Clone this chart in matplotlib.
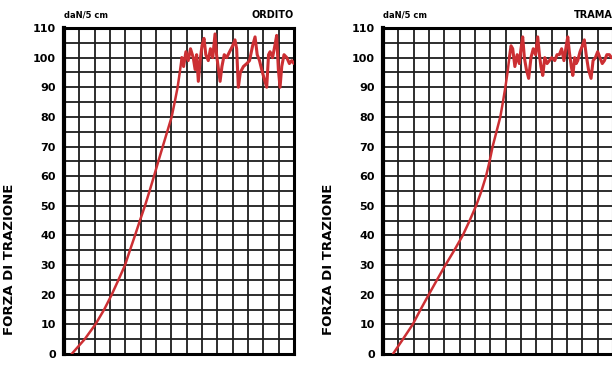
import matplotlib
matplotlib.use("Agg")
import matplotlib.pyplot as plt
import numpy as np

# ORDITO (warp)
ordito_x = [0.5, 1.35, 2.05, 2.62, 3.11, 3.55, 3.98, 4.3, 4.63, 4.95, 5.28, 5.58, 5.87,
            6.15, 6.44, 6.73, 7.02, 7.22, 7.41, 7.55, 7.68,
            7.8, 7.95, 8.1, 8.25, 8.43, 8.55, 8.65, 8.76, 8.9, 9.0, 9.13, 9.25, 9.41,
            9.55, 9.7, 9.85, 9.95, 10.05, 10.18, 10.3, 10.45, 10.61, 10.8, 11.0, 11.15,
            11.26, 11.37, 11.5, 11.7, 11.92, 12.1, 12.3, 12.46, 12.6, 12.75, 12.89,
            13.05, 13.22, 13.34, 13.44, 13.6, 13.75, 13.87, 13.98, 14.09, 14.2, 14.35,
            14.53, 14.7, 14.85, 15.0]
ordito_y = [0, 5, 10, 15, 20, 25, 30, 35, 40, 45, 50, 55, 60,
            65, 70, 75, 80, 85, 90, 95, 100,
            97, 102, 99, 103, 100, 96, 101, 92, 100, 104, 106.5, 101, 99,
            103, 100, 108, 101, 97, 92, 97, 101, 100, 102, 104, 106,
            103, 90, 95, 97, 98, 99, 104, 107, 101, 99, 96,
            93, 90, 101, 102, 100, 104, 107.5, 96, 90, 97, 101,
            100, 98, 99, 98]

# TRAMA (weft)
trama_x = [0.65, 1.3, 1.94, 2.45, 2.98, 3.52, 4.07, 4.65, 5.2, 5.65, 6.07, 6.42, 6.72,
           6.95, 7.15, 7.4, 7.65, 7.82, 7.98, 8.12, 8.24,
           8.35, 8.46, 8.6, 8.75, 8.89, 9.0, 9.11, 9.22, 9.35, 9.5, 9.65, 9.8, 9.95,
           10.09, 10.2, 10.3, 10.42, 10.55, 10.7, 10.85, 11.0, 11.2, 11.35, 11.5,
           11.65, 11.8, 11.95, 12.05, 12.15, 12.28, 12.38, 12.5, 12.6, 12.7, 12.85,
           13.0, 13.13, 13.25, 13.4, 13.57, 13.7, 13.85, 14.0, 14.15, 14.3, 14.44,
           14.6, 14.76, 14.9, 15.0]
trama_y = [0, 5, 10, 15, 20, 25, 30, 35, 40, 45, 50, 55, 60,
           65, 70, 75, 80, 85, 90, 95, 100,
           104, 103, 97, 101, 98, 103, 107, 100, 96, 93, 100, 103, 101,
           107, 101, 97, 94, 100, 98, 99, 100, 99, 101, 101,
           103, 99, 104, 107, 102, 97, 94, 100, 98, 99, 102,
           104, 106, 101, 96, 93, 99, 100, 102, 100, 98, 99,
           101, 101, 100, 100]

y_ticks = list(range(0, 111, 10))
panel_titles = ["ORDITO", "TRAMA"]
unit_label = "daN/5 cm"
y_label = "FORZA DI TRAZIONE"

RED = "#cc2f33"


def draw_panel(fig, rect, xs, ys, title):
    ax = fig.add_axes(rect)
    ax.set_xlim(0, 15)
    ax.set_ylim(0, 110)

    # grid of the printed chart paper
    for gx in np.arange(1, 15):
        ax.axvline(gx, color="#1e1e1e", lw=1.3, zorder=1)
    for gy in np.arange(5, 110, 5):
        ax.axhline(gy, color="#1e1e1e", lw=1.3, zorder=1)

    # rising part thinner, the noisy plateau drawn a bit heavier
    split = ys.index(100)
    ax.plot(xs[:split + 1], ys[:split + 1], color=RED, lw=1.8, zorder=3,
            solid_joinstyle="round", solid_capstyle="round")
    ax.plot(xs[split:], ys[split:], color=RED, lw=2.2, zorder=3,
            solid_joinstyle="round", solid_capstyle="round")

    for sp in ax.spines.values():
        sp.set_linewidth(2.2)
        sp.set_color("black")
    ax.spines["left"].set_linewidth(3)

    ax.set_xticks([])
    ax.set_yticks(y_ticks)
    ax.set_yticklabels([str(t) for t in y_ticks], fontsize=8, fontweight="bold")
    ax.tick_params(axis="y", length=0, pad=6)

    ax.set_ylabel(y_label, fontsize=9.5, fontweight="bold")
    ax.yaxis.set_label_coords(-0.21, 0.29)

    ax.text(0.0, 1.025, unit_label, transform=ax.transAxes, fontsize=6,
            fontweight="bold", ha="left", va="bottom")
    ax.text(1.0, 1.025, title, transform=ax.transAxes, fontsize=7,
            fontweight="bold", ha="right", va="bottom")
    return ax


def main():
    fig = plt.figure(figsize=(6.12, 3.65), dpi=100)
    fig.patch.set_facecolor("white")

    draw_panel(fig, [64 / 612, 11 / 365, 230 / 612, 326 / 365],
               ordito_x, ordito_y, panel_titles[0])
    draw_panel(fig, [383 / 612, 11 / 365, 230 / 612, 326 / 365],
               trama_x, trama_y, panel_titles[1])

    fig.savefig("out.png", dpi=100)
    plt.close(fig)


if __name__ == "__main__":
    main()
